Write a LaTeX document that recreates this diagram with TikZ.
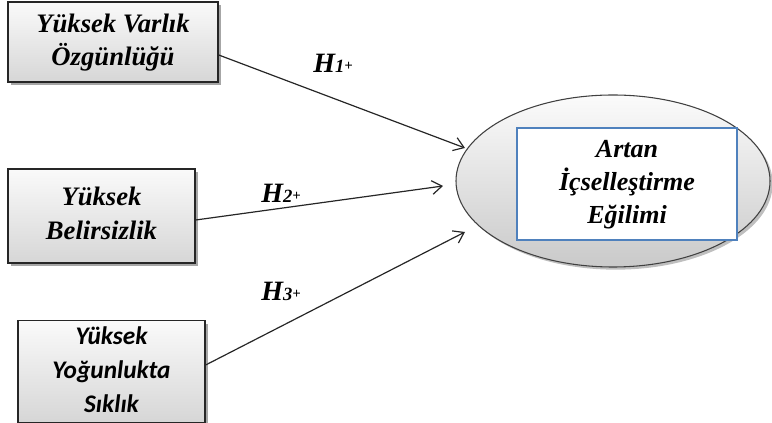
\documentclass[tikz,border=0pt]{standalone}
\usepackage{fontspec}
\setmainfont{Liberation Serif}
\newfontfamily\tnrfont{Liberation Serif}
\newfontfamily\calfont{Carlito}
\usetikzlibrary{shapes.geometric,arrows.meta,shadows,calc}
\definecolor{boxblue}{HTML}{4F81BD}
\newcommand{\stk}[1]{\begin{tabular}{@{}c@{}}#1\end{tabular}}
\tikzset{
  varbox/.style={draw=black!85, line width=1.1pt, top color=gray!4, bottom color=gray!32,
    inner sep=0pt,
    drop shadow={shadow xshift=2.5pt, shadow yshift=-2.5pt, opacity=0.35, fill=black}},
  hyp/.style={inner sep=0pt},
  conn/.style={draw=black!85, line width=0.9pt, -{Straight Barb[length=2.6mm,width=3.6mm,line width=0.9pt]}},
}
\newcommand{\tnrbi}[2]{\tnrfont\fontsize{#1}{#2}\selectfont\bfseries\itshape}
\newcommand{\hlab}[1]{{\tnrbi{21}{21}H\fontsize{14}{14}\selectfont#1\raisebox{1pt}{\fontsize{11}{11}\selectfont+}}}
\begin{document}
\begin{tikzpicture}[x=0.75pt,y=-0.75pt]
\useasboundingbox (0,0) rectangle (772,423);
% boxes
\node[varbox, minimum width=157.5pt, minimum height=60pt] (b1) at (113,42)
  {\tnrbi{20}{24.75}\stk{Yüksek Varlık\\Özgünlüğü}};
\node[varbox, minimum width=140.25pt, minimum height=70.5pt] (b2) at (101.5,216)
  {\tnrbi{20}{25.5}\stk{Yüksek\\Belirsizlik}};
\node[varbox, minimum width=140.25pt, minimum height=69.75pt] (b3) at (111.5,371.5)
  {\calfont\fontsize{19}{25.5}\selectfont\bfseries\itshape\stk{Yüksek\\Yoğunlukta\\Sıklık}};
% ellipse
\node[ellipse, draw=black!75, line width=0.8pt, top color=gray!3, bottom color=gray!42,
      minimum width=235.5pt, minimum height=129pt,
      drop shadow={shadow xshift=2pt, shadow yshift=-2pt, opacity=0.25, fill=black}] (el) at (613,181) {};
\node[draw=boxblue, line width=2.2pt, fill=white, minimum width=165pt, minimum height=84pt,
      inner sep=0pt] (dv) at (627,184)
      {\tnrbi{19.5}{24.4}\stk{Artan\\İçselleştirme\\Eğilimi}};
% arrow tips
\coordinate (t1) at (465,148);
\coordinate (t2) at (443,186);
\coordinate (t3) at (465,232);
\draw[conn] ([yshift=-9.75pt]b1.east) -- (t1);
\draw[conn] ([yshift=-3pt]b2.east) -- (t2);
\draw[conn] ([yshift=4.9pt]b3.east) -- (t3);
% labels
\node[hyp] (h1) at (333,63) {\hlab{1}};
\node[hyp] (h2) at (281,193) {\hlab{2}};
\node[hyp] (h3) at (281,291) {\hlab{3}};
\end{tikzpicture}
\end{document}
